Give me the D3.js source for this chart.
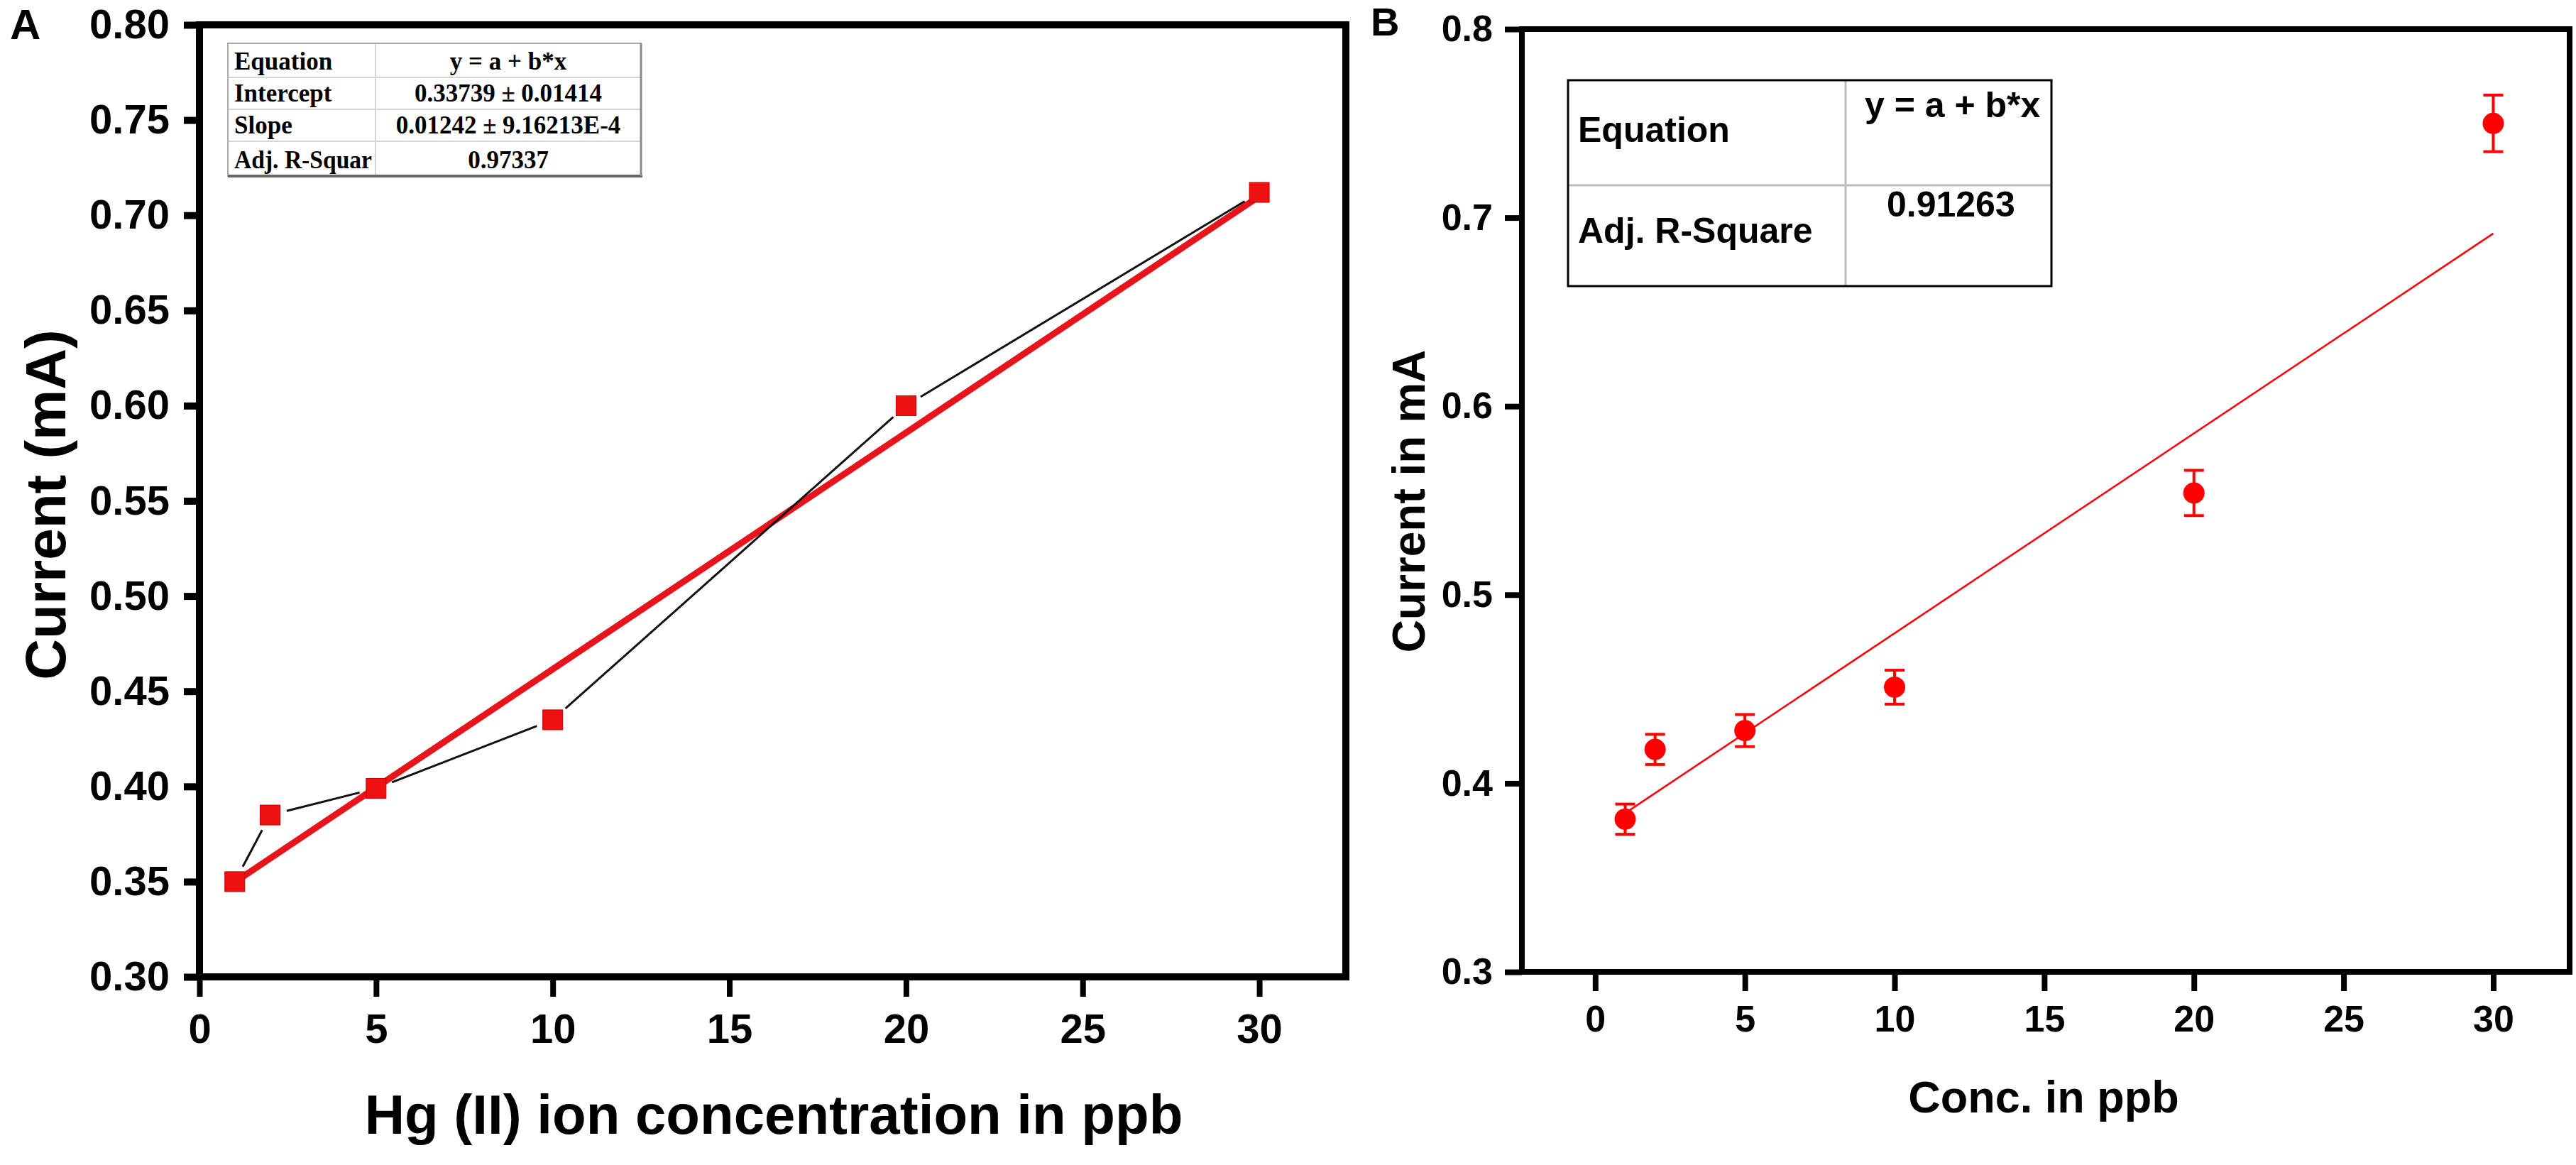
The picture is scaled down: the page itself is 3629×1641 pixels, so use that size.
<!DOCTYPE html>
<html>
<head>
<meta charset="utf-8">
<script src="https://cdn.jsdelivr.net/npm/d3@7"></script>
<style>
body { margin: 0; background: #fff; }
svg text { font-family: "Liberation Sans", Arial, sans-serif; font-weight: bold; fill: #000; }
</style>
</head>
<body>
<div class="chart"></div>
<script>
// values
const conc = [1, 2, 5, 10, 20, 30];
const currentA = [0.350, 0.385, 0.399, 0.435, 0.600, 0.712];
const fitA = [0.33739, 0.01242];           // intercept, slope
const currentB = [0.381, 0.418, 0.428, 0.451, 0.554, 0.750];
const errB = [0.008, 0.008, 0.0085, 0.009, 0.012, 0.015];
const fitB = [0.3736, 0.0106];
const xTicks = [0, 5, 10, 15, 20, 25, 30];
const yTicksA = [0.30, 0.35, 0.40, 0.45, 0.50, 0.55, 0.60, 0.65, 0.70, 0.75, 0.80];
const yTicksB = [0.3, 0.4, 0.5, 0.6, 0.7, 0.8];
const tableA = [
	['Equation', 'y = a + b*x'],
	['Intercept', '0.33739 ± 0.01414'],
	['Slope', '0.01242 ± 9.16213E-4'],
	['Adj. R-Squar', '0.97337']
];
const tableB = [
	['Equation', 'y = a + b*x'],
	['Adj. R-Square', '0.91263']
];

const W = 3629, H = 1641;
const svg = d3.select('.chart').append('svg')
	.attr('width', W)
	.attr('height', H)
	.style('display', 'block');

svg.append('rect').attr('width', W).attr('height', H).attr('fill', '#fff');

// ---------- panel A ----------
const xA = d3.scaleLinear().domain([0, 32.45]).range([281, 1896]);
const yA = d3.scaleLinear().domain([0.30, 0.80]).range([1376, 35]);

const gA = svg.append('g');

// table A
const tA = gA.append('g')
	.style('font-family', '"Liberation Serif", "Times New Roman", serif');
const colA = [321, 529, 903];
const rowA = [61, 109, 154, 199, 248];
tableA.forEach((r, i) => {
	const lab = tA.append('text')
		.attr('x', colA[0] + 9)
		.attr('y', rowA[i + 1] - 11)
		.style('font-family', '"Liberation Serif", "Times New Roman", serif')
		.style('font-size', '35px')
		.text(r[0]);
	if (r[0].length > 10) lab.attr('textLength', 194).attr('lengthAdjust', 'spacingAndGlyphs');
	tA.append('text')
		.attr('x', (colA[1] + colA[2]) / 2)
		.attr('y', rowA[i + 1] - 11)
		.attr('text-anchor', 'middle')
		.style('font-family', '"Liberation Serif", "Times New Roman", serif')
		.style('font-size', '35px')
		.text(r[1]);
});
rowA.slice(1, -1).forEach(y => {
	tA.append('line').attr('x1', colA[0]).attr('x2', colA[2]).attr('y1', y).attr('y2', y)
		.attr('stroke', '#d6d6d6').attr('stroke-width', 2);
});
tA.append('line').attr('x1', colA[1]).attr('x2', colA[1]).attr('y1', rowA[0]).attr('y2', rowA[4])
	.attr('stroke', '#d6d6d6').attr('stroke-width', 2);
tA.append('rect').attr('x', colA[0]).attr('y', rowA[0])
	.attr('width', colA[2] - colA[0]).attr('height', rowA[4] - rowA[0])
	.attr('fill', 'none').attr('stroke', '#aaa').attr('stroke-width', 2);
tA.append('line').attr('x1', colA[0]).attr('x2', colA[2] + 2).attr('y1', rowA[4]).attr('y2', rowA[4])
	.attr('stroke', '#666').attr('stroke-width', 4);
tA.append('line').attr('x1', colA[2]).attr('x2', colA[2]).attr('y1', rowA[0]).attr('y2', rowA[4])
	.attr('stroke', '#888').attr('stroke-width', 3);

// fit line
gA.append('line')
	.attr('x1', xA(conc[0])).attr('y1', yA(fitA[0] + fitA[1] * conc[0]))
	.attr('x2', xA(conc[5])).attr('y2', yA(fitA[0] + fitA[1] * conc[5]))
	.attr('stroke', '#e8141b').attr('stroke-width', 9);

// connecting line with gaps at the markers
const gap = 24;
for (let i = 0; i < conc.length - 1; i++) {
	const x0 = xA(conc[i]), y0 = yA(currentA[i]);
	const x1 = xA(conc[i + 1]), y1 = yA(currentA[i + 1]);
	const len = Math.hypot(x1 - x0, y1 - y0);
	const ux = (x1 - x0) / len, uy = (y1 - y0) / len;
	gA.append('line')
		.attr('x1', x0 + ux * gap).attr('y1', y0 + uy * gap)
		.attr('x2', x1 - ux * gap).attr('y2', y1 - uy * gap)
		.attr('stroke', '#111').attr('stroke-width', 3);
}

// square markers
gA.selectAll('.sq')
	.data(conc.map((c, i) => ({x: c, y: currentA[i]})))
	.enter()
	.append('rect')
	.attr('class', 'sq')
	.attr('x', d => xA(d.x) - 14)
	.attr('y', d => yA(d.y) - 14)
	.attr('width', 28)
	.attr('height', 28)
	.attr('fill', '#ee1111')
	.attr('stroke', '#c40000')
	.attr('stroke-width', 1);

// axes A
const axAy = gA.append('g')
	.attr('transform', `translate(${xA(0)},0)`)
	.call(d3.axisLeft(yA).tickValues(yTicksA).tickFormat(d3.format('.2f')).tickSize(22).tickPadding(20));
const axAx = gA.append('g')
	.attr('transform', `translate(0,${yA(0.30)})`)
	.call(d3.axisBottom(xA).tickValues(xTicks).tickSize(28).tickPadding(24));
[axAy, axAx].forEach(a => {
	a.select('.domain').remove();
	a.attr('font-family', null).attr('font-size', null);
	a.selectAll('text').style('font-size', '58px');
});
axAy.selectAll('line').attr('stroke-width', 10);
axAx.selectAll('line').attr('stroke-width', 8);

gA.append('rect')
	.attr('x', xA(0)).attr('y', yA(0.80))
	.attr('width', xA.range()[1] - xA(0)).attr('height', yA(0.30) - yA(0.80))
	.attr('fill', 'none').attr('stroke', '#000').attr('stroke-width', 10);

gA.append('text').attr('x', 14).attr('y', 55).style('font-size', '60px').text('A');
gA.append('text')
	.attr('transform', 'translate(92,711) rotate(-90)')
	.attr('text-anchor', 'middle')
	.style('font-size', '80px')
	.text('Current (mA)');
gA.append('text')
	.attr('x', 1090).attr('y', 1597)
	.attr('text-anchor', 'middle')
	.style('font-size', '78px')
	.text('Hg (II) ion concentration in ppb');

// ---------- panel B ----------
const xB = d3.scaleLinear().domain([-2.45, 32.55]).range([2144, 3620]);
const yB = d3.scaleLinear().domain([0.3, 0.8]).range([1369, 41]);

const gB = svg.append('g');

// table B
const tB = gB.append('g');
const colB = [2209, 2600, 2890];
const rowB = [113, 261, 403];
tB.append('line').attr('x1', colB[0]).attr('x2', colB[2]).attr('y1', rowB[1]).attr('y2', rowB[1])
	.attr('stroke', '#bbb').attr('stroke-width', 3);
tB.append('line').attr('x1', colB[1]).attr('x2', colB[1]).attr('y1', rowB[0]).attr('y2', rowB[2])
	.attr('stroke', '#bbb').attr('stroke-width', 3);
tB.append('rect').attr('x', colB[0]).attr('y', rowB[0])
	.attr('width', colB[2] - colB[0]).attr('height', rowB[2] - rowB[0])
	.attr('fill', 'none').attr('stroke', '#000').attr('stroke-width', 3);
const labY = [200, 342];
const valY = [165, 305];
const valX = [2627, 2658];
tableB.forEach((r, i) => {
	tB.append('text').attr('x', 2223).attr('y', labY[i]).style('font-size', '50px').text(r[0]);
	tB.append('text').attr('x', valX[i]).attr('y', valY[i]).style('font-size', '50px').text(r[1]);
});

// fit line B
gB.append('line')
	.attr('x1', xB(conc[0])).attr('y1', yB(fitB[0] + fitB[1] * conc[0]))
	.attr('x2', xB(conc[5])).attr('y2', yB(fitB[0] + fitB[1] * conc[5]))
	.attr('stroke', '#ff0000').attr('stroke-width', 2.5);

const ptsB = conc.map((c, i) => ({x: c, y: currentB[i], e: errB[i]}));
const eb = gB.selectAll('.err').data(ptsB).enter().append('g').attr('class', 'err')
	.attr('stroke', '#ff0000').attr('stroke-width', 4);
eb.append('line')
	.attr('x1', d => xB(d.x)).attr('x2', d => xB(d.x))
	.attr('y1', d => yB(d.y - d.e)).attr('y2', d => yB(d.y + d.e));
eb.append('line')
	.attr('x1', d => xB(d.x) - 14).attr('x2', d => xB(d.x) + 14)
	.attr('y1', d => yB(d.y + d.e)).attr('y2', d => yB(d.y + d.e));
eb.append('line')
	.attr('x1', d => xB(d.x) - 14).attr('x2', d => xB(d.x) + 14)
	.attr('y1', d => yB(d.y - d.e)).attr('y2', d => yB(d.y - d.e));

gB.selectAll('.dot').data(ptsB).enter().append('circle')
	.attr('class', 'dot')
	.attr('cx', d => xB(d.x))
	.attr('cy', d => yB(d.y))
	.attr('r', 15)
	.attr('fill', '#ff0000');

// axes B
const axBy = gB.append('g')
	.attr('transform', `translate(${xB.range()[0]},0)`)
	.call(d3.axisLeft(yB).tickValues(yTicksB).tickFormat(d3.format('.1f')).tickSize(24).tickPadding(17));
const axBx = gB.append('g')
	.attr('transform', `translate(0,${yB(0.3)})`)
	.call(d3.axisBottom(xB).tickValues(xTicks).tickSize(27).tickPadding(20));
[axBy, axBx].forEach(a => {
	a.select('.domain').remove();
	a.attr('font-family', null).attr('font-size', null);
	a.selectAll('text').style('font-size', '52px');
	a.selectAll('line').attr('stroke-width', 8);
});

gB.append('rect')
	.attr('x', xB.range()[0]).attr('y', yB(0.8))
	.attr('width', xB.range()[1] - xB.range()[0]).attr('height', yB(0.3) - yB(0.8))
	.attr('fill', 'none').attr('stroke', '#000').attr('stroke-width', 8);

gB.append('text').attr('x', 1931).attr('y', 50).style('font-size', '56px').text('B');
gB.append('text')
	.attr('transform', 'translate(2007,706) rotate(-90)')
	.attr('text-anchor', 'middle')
	.style('font-size', '64px')
	.text('Current in mA');
gB.append('text')
	.attr('x', 2879).attr('y', 1567)
	.attr('text-anchor', 'middle')
	.style('font-size', '63px')
	.text('Conc. in ppb');
</script>
</body>
</html>
